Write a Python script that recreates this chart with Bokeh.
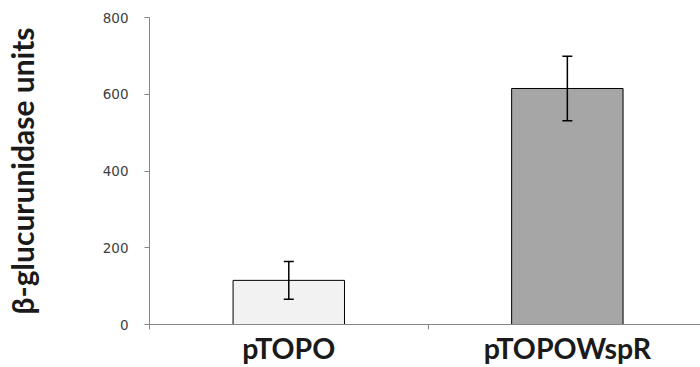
from bokeh.plotting import figure
from bokeh.models import Range1d, FixedTicker, Whisker, ColumnDataSource, TeeHead
from bokeh.embed import file_html
from bokeh.resources import INLINE

# ---- data ----
categories = ["pTOPO", "pTOPOWspR"]
values = [115, 615]
errors = [49, 84]
bar_colors = ["#f2f2f2", "#a6a6a6"]
y_ticks = [0, 200, 400, 600, 800]
y_title = "β-glucurunidase units"

xpos = [i + 0.5 for i in range(len(categories))]
src = ColumnDataSource(dict(
    x=xpos, top=values, color=bar_colors,
    upper=[v + e for v, e in zip(values, errors)],
    lower=[v - e for v, e in zip(values, errors)],
))

p = figure(width=700, height=367, output_backend="svg", toolbar_location=None,
           x_range=Range1d(0, 1.978), y_range=Range1d(0, 800),
           min_border_left=148, min_border_right=0, min_border_top=17,
           min_border_bottom=43)
p.outline_line_color = None
p.grid.visible = False
p.background_fill_color = "white"
p.border_fill_color = "white"

p.vbar(x="x", top="top", width=0.4, bottom=0, source=src,
       fill_color="color", line_color="black", line_width=1)

w = Whisker(base="x", upper="upper", lower="lower", source=src,
            line_color="black", line_width=1.5, level="overlay",
            upper_head=TeeHead(size=10, line_color="black", line_width=1.5),
            lower_head=TeeHead(size=10, line_color="black", line_width=1.5))
p.add_layout(w)

# x axis
xa = p.xaxis[0]
xa.ticker = FixedTicker(ticks=xpos, minor_ticks=[0, 1, 2])
xa.major_label_overrides = {x: c for x, c in zip(xpos, categories)}
xa.major_tick_out = 0
xa.major_tick_in = 0
xa.minor_tick_out = 5
xa.minor_tick_in = 0
xa.minor_tick_line_color = "#868686"
xa.axis_line_color = "#868686"
xa.major_label_text_font = "Lato"
xa.major_label_text_font_style = "bold"
xa.major_label_text_font_size = "28.5px"
xa.major_label_text_color = "#1a1a1a"
xa.major_label_standoff = 1

# y axis
ya = p.yaxis[0]
ya.ticker = FixedTicker(ticks=y_ticks)
ya.minor_tick_line_color = None
ya.major_tick_out = 5
ya.major_tick_in = 0
ya.major_tick_line_color = "#868686"
ya.axis_line_color = "#868686"
ya.major_label_text_font = "DejaVu Sans"
ya.major_label_text_font_size = "13.5px"
ya.major_label_text_color = "#404040"
ya.major_label_standoff = 16
ya.axis_label = y_title
ya.axis_label_text_font = "Lato"
ya.axis_label_text_font_style = "bold"
ya.axis_label_text_font_size = "30px"
ya.axis_label_text_color = "#1a1a1a"
ya.axis_label_standoff = 60

open("out.html", "w").write(file_html(p, INLINE))
